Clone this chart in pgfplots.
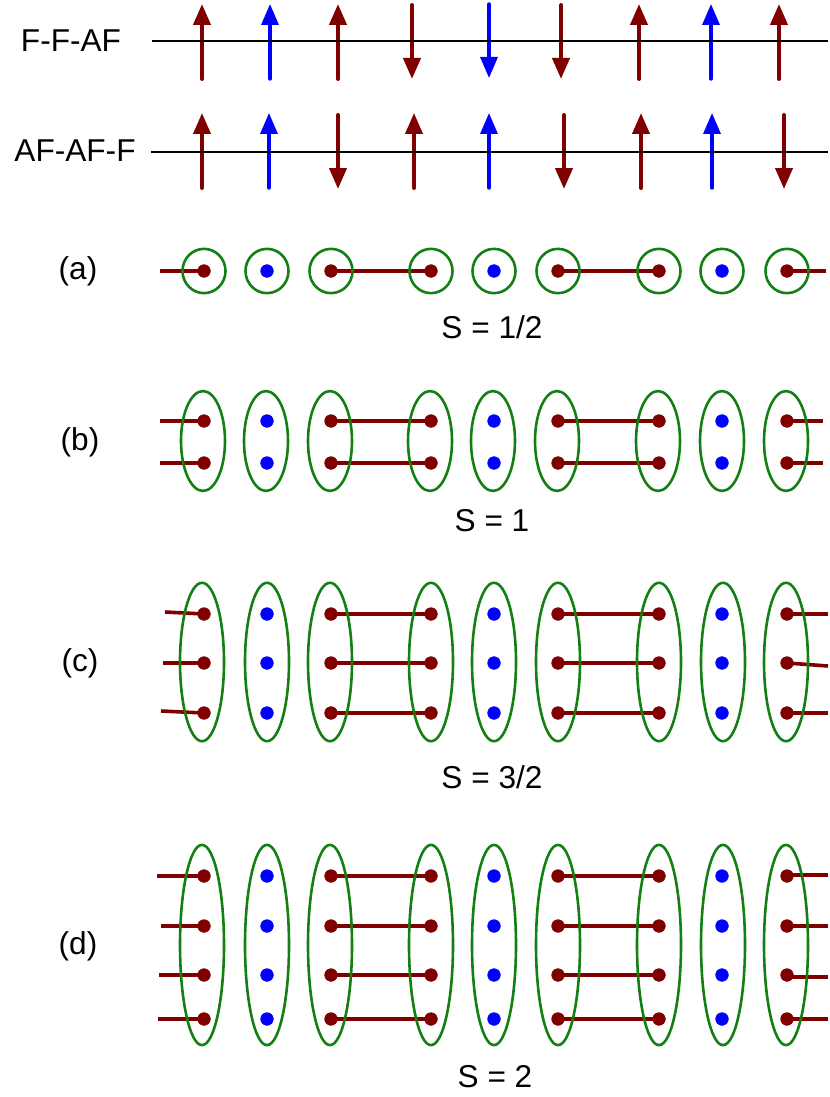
\documentclass[border=0pt]{standalone}
\usepackage{fontspec}
\setmainfont{Liberation Sans}
\usepackage{pgfplots}
\pgfplotsset{compat=1.18}
\usepackage{pgfplotstable}
\usetikzlibrary{arrows.meta}
\definecolor{spinred}{RGB}{128,0,0}
\definecolor{spinblue}{RGB}{0,0,255}
\definecolor{loopgreen}{RGB}{20,128,20}
\tikzset{lbl/.style={font=\fontsize{15.8}{19}\selectfont}}

% spin arrows: tail (x,y), vertical length v (image pixels, y downwards)
\pgfplotstableread{
x   y    v
202 79  -75
338 79  -75
412 5    74
561 5    74
639 79  -75
779 79  -75
202 188 -75
338 115  74
414 188 -75
564 115  74
641 188 -75
784 115  74
}\redarrows
\pgfplotstableread{
x   y    v
270 79  -75
489 4    74
711 79  -75
269 188 -75
489 188 -75
712 188 -75
}\bluearrows

% valence bonds: start (x,y), extent (u,v)
\pgfplotstableread{
x   y    u    v
160 271  44   0
331 271  100  0
558 271  101  0
787 271  39   0
160 421  44   0
331 421  100  0
558 421  101  0
787 421  36   0
160 463  44   0
331 463  100  0
558 463  101  0
787 463  36   0
165 612  39   2
163 663  41   0
161 711  43   2
331 614  100  0
331 663  100  0
331 713  100  0
558 614  101  0
558 663  101  0
558 713  101  0
787 614  41   0
787 663  41   3
787 713  41   0
157 876  47   0
161 926  43   0
159 975  45   0
158 1019 46   0
331 876  100  0
331 926  100  0
331 975  100  0
331 1019 100  0
558 876  101  0
558 926  101  0
558 975  101  0
558 1019 101  0
787 875  41   0
787 926  41   0
787 977  41   0
787 1019 41   0
}\bonds

\begin{document}
\begin{tikzpicture}
\begin{axis}[
    scale only axis, width=414pt, height=548.5pt,
    xmin=0, xmax=828, ymin=0, ymax=1097,
    y dir=reverse, hide axis, clip=false,
]
\addplot[draw=none] coordinates {(0,0) (828,1097)};

% spin chains
\addplot[spinred, line width=2pt, line cap=round,
    -{Triangle[length=10.5pt,width=8.5pt]},
    quiver={u=0, v=\thisrow{v}}] table[x=x, y=y] {\redarrows};
\addplot[spinblue, line width=1.7pt, line cap=round,
    -{Triangle[length=10.5pt,width=8.5pt]},
    quiver={u=0, v=\thisrow{v}}] table[x=x, y=y] {\bluearrows};
\addplot[black, line width=1pt] coordinates {(152,41.5) (828,41.5)};
\addplot[black, line width=1pt] coordinates {(151,152) (828,152)};

% loops around each site
\addplot[only marks, mark=o, mark size=10.75pt,
    mark options={loopgreen, line width=1.3pt, yscale=1.03}]
    coordinates {(204,271) (267,271) (331,271) (431,271) (494,271)
                 (558,271) (659,271) (722,271) (787,271)};
\addplot[only marks, mark=o, mark size=11pt,
    mark options={loopgreen, line width=1.3pt, yscale=2.27}]
    coordinates {(203,441) (266,441) (330,441) (430,441) (493,441)
                 (557,441) (658,441) (722,441) (786,441)};
\addplot[only marks, mark=o, mark size=11pt,
    mark options={loopgreen, line width=1.3pt, yscale=3.6}]
    coordinates {(202,662) (267,662) (330,662) (431,662) (494,662)
                 (558,662) (659,662) (723,662) (786,662)};
\addplot[only marks, mark=o, mark size=11pt,
    mark options={loopgreen, line width=1.3pt, yscale=4.55}]
    coordinates {(202,945) (267,945) (330,945) (431,945) (494,945)
                 (558,945) (659,945) (723,945) (786,945)};

% bonds
\addplot[spinred, line width=1.8pt,
    quiver={u=\thisrow{u}, v=\thisrow{v}}] table[x=x, y=y] {\bonds};

% sites
\addplot[only marks, mark=*, mark size=3.2pt, spinred,
    mark options={line width=0.2pt}]
    coordinates {
    (204,271) (331,271) (431,271) (558,271) (659,271) (787,271)
    (204,421) (331,421) (431,421) (558,421) (659,421) (787,421)
    (204,463) (331,463) (431,463) (558,463) (659,463) (787,463)
    (204,614) (331,614) (431,614) (558,614) (659,614) (787,614)
    (204,663) (331,663) (431,663) (558,663) (659,663) (787,663)
    (204,713) (331,713) (431,713) (558,713) (659,713) (787,713)
    (204,876) (331,876) (431,876) (558,876) (659,876) (787,876)
    (204,926) (331,926) (431,926) (558,926) (659,926) (787,926)
    (204,975) (331,975) (431,975) (558,975) (659,975) (787,975)
    (204,1019) (331,1019) (431,1019) (558,1019) (659,1019) (787,1019)};
\addplot[only marks, mark=*, mark size=3.2pt, spinblue,
    mark options={line width=0.2pt}]
    coordinates {
    (267,271) (494,271) (722,271)
    (267,421) (494,421) (722,421)
    (267,463) (494,463) (722,463)
    (267,614) (494,614) (722,614)
    (267,663) (494,663) (722,663)
    (267,713) (494,713) (722,713)
    (267,876) (494,876) (722,876)
    (267,926) (494,926) (722,926)
    (267,975) (494,975) (722,975)
    (267,1019) (494,1019) (722,1019)};

% labels
\node[lbl] at (axis cs:71,41) {F-F-AF};
\node[lbl] at (axis cs:75,151) {AF-AF-F};
\node[lbl] at (axis cs:78,271) {(a)};
\node[lbl] at (axis cs:80,442) {(b)};
\node[lbl] at (axis cs:80,663) {(c)};
\node[lbl] at (axis cs:78,946) {(d)};
\node[lbl] at (axis cs:492,327) {S = 1/2};
\node[lbl] at (axis cs:492,521) {S = 1};
\node[lbl] at (axis cs:492,777) {S = 3/2};
\node[lbl] at (axis cs:495,1077) {S = 2};
\end{axis}
\end{tikzpicture}
\end{document}
